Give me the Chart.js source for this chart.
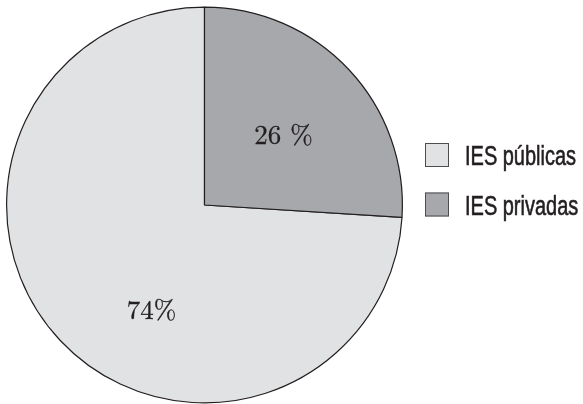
<!DOCTYPE html>
<html>
<head>
<meta charset="utf-8">
<script src="https://cdn.jsdelivr.net/npm/chart.js@4"></script>
<style>
  html, body { margin: 0; padding: 0; background: #fff; }
  #wrap { width: 583px; height: 404px; }
</style>
</head>
<body>
<div id="wrap"><canvas id="chart" width="583" height="404"></canvas></div>
<script>
// data
const labels = ["IES públicas", "IES privadas"];
const shares = [74, 26];
const valueLabels = ["74%", "26 %"];
const colours = ["#e1e2e4", "#a7a8ab"];

const legendFont = "27px 'Liberation Sans', Arial, sans-serif";
const legendSquash = 0.74; // fake a condensed face
const valueSize = 27;
const valueFont = valueSize + "px 'Latin Modern Roman', 'DejaVu Serif', 'Liberation Serif', serif";

// where each value label sits inside its slice: fraction of the sweep, fraction of radius
const labelSweep = [0.425, 0.52];
const labelDist = [0.595, 0.532];

// draws the % text inside the slices
const valuePlugin = {
    id: 'value_labels',
    afterDatasetsDraw: (chart) => {
        const ctx = chart.ctx;
        const arcs = chart.getDatasetMeta(0).data;
        ctx.save();
        ctx.font = valueFont;
        ctx.fillStyle = "#231f20";
        ctx.strokeStyle = "#231f20";
        ctx.lineWidth = 0.3;
        ctx.textAlign = "center";
        ctx.textBaseline = "alphabetic";
        arcs.forEach((arc, i) => {
            const a = arc.startAngle + (arc.endAngle - arc.startAngle) * labelSweep[i];
            const r = arc.outerRadius * labelDist[i];
            // baseline offset by half the digit height so the digits are centred
            const tx = arc.x + Math.cos(a) * r;
            const ty = arc.y + Math.sin(a) * r + valueSize * 0.33;
            ctx.fillText(valueLabels[i], tx, ty);
            ctx.strokeText(valueLabels[i], tx, ty);
        });
        ctx.restore();
    }
};

// hand drawn legend on the right
const legendPlugin = {
    id: 'side_legend',
    afterDraw: (chart) => {
        const ctx = chart.ctx;
        const x = 425, box = 24, gap = 49.5, top = 143;
        ctx.save();
        ctx.font = legendFont;
        ctx.textBaseline = "alphabetic";
        chart.data.labels.forEach((lab, i) => {
            const y = top + i * gap;
            ctx.fillStyle = chart.data.datasets[0].backgroundColor[i];
            ctx.fillRect(x, y, box, box);
            ctx.strokeStyle = "#4d4d4f";
            ctx.lineWidth = 1;
            ctx.strokeRect(x + 0.5, y + 0.5, box - 1, box - 1);
            ctx.fillStyle = "#231f20";
            ctx.strokeStyle = "#231f20";
            ctx.lineWidth = 0.6;
            ctx.save();
            ctx.translate(465, y + 22.3);
            ctx.scale(legendSquash, 1);
            ctx.fillText(lab, 0, 0);
            ctx.strokeText(lab, 0, 0);
            ctx.restore();
        });
        ctx.restore();
    }
};

new Chart(document.getElementById("chart"), {
    type: 'pie',
    data: {
        labels: labels,
        datasets: [{
            data: shares,
            backgroundColor: colours,
            borderColor: "#231f20",
            borderWidth: 1.2,
        }]
    },
    options: {
        responsive: false,
        animation: false,
        rotation: 93.6,
        layout: { padding: { left: 6, right: 180, top: 6, bottom: 0 } },
        plugins: {
            legend: { display: false },
            tooltip: { enabled: false },
        },
    },
    plugins: [valuePlugin, legendPlugin],
});
</script>
</body>
</html>
